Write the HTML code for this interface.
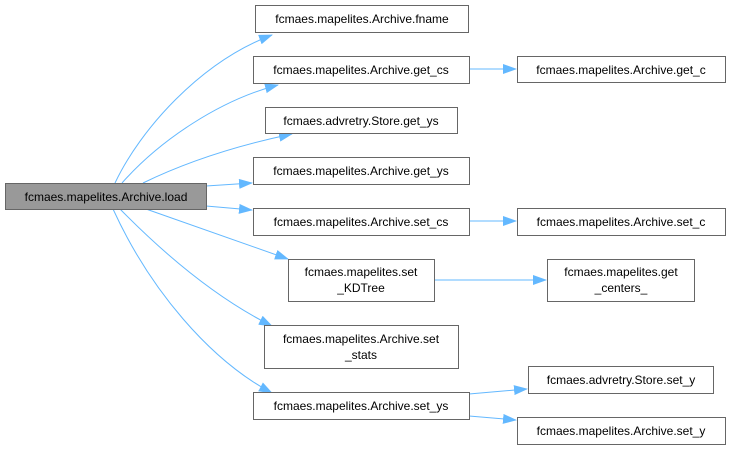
<!DOCTYPE html>
<html><head><style>
html,body{margin:0;padding:0;background:#fff;width:731px;height:449px;overflow:hidden}
text{font-family:"Liberation Sans",Arial,sans-serif;font-size:12px;fill:#000}
</style></head><body>
<svg width="731" height="449" viewBox="0 0 731 449" xmlns="http://www.w3.org/2000/svg">
<defs>
<marker id="a" markerWidth="14" markerHeight="10" refX="13" refY="5" orient="auto" markerUnits="userSpaceOnUse">
<polygon points="0,0 14,5 0,10" fill="#63b8ff"/>
</marker>
</defs>
<g fill="none" stroke="#63b8ff" stroke-width="1" marker-end="url(#a)">
<path d="M115,183 C140,130 200,62 272,35"/>
<path d="M122,183 C160,140 220,100 278,85"/>
<path d="M143,183 C180,165 230,147 292,134"/>
<path d="M206,186 L252,183"/>
<path d="M206,206 L252,210"/>
<path d="M146,209 L288,259"/>
<path d="M120,209 C170,260 220,300 272,326"/>
<path d="M113,209 C150,290 210,360 272,393"/>
<path d="M469,69 L516,69"/>
<path d="M469,221 L516,221"/>
<path d="M434,280 L546,280"/>
<path d="M469,394 L527,389"/>
<path d="M469,416 L516,420"/>
</g>
<g stroke="#666" stroke-width="1" fill="#fff">
<rect x="5.5" y="183.5" width="201" height="26" fill="#999"/>
<rect x="255.5" y="5.5" width="213" height="27"/>
<rect x="253.5" y="56.5" width="216" height="27"/>
<rect x="265.5" y="107.5" width="192" height="26"/>
<rect x="253.5" y="157.5" width="216" height="27"/>
<rect x="253.5" y="208.5" width="216" height="27"/>
<rect x="288.5" y="259.5" width="146" height="42"/>
<rect x="264.5" y="325.5" width="194" height="43"/>
<rect x="253.5" y="392.5" width="216" height="27"/>
<rect x="517.5" y="56.5" width="208" height="26"/>
<rect x="517.5" y="208.5" width="208" height="27"/>
<rect x="547.5" y="259.5" width="147" height="42"/>
<rect x="528.5" y="366.5" width="185" height="27"/>
<rect x="517.5" y="417.5" width="208" height="27"/>
</g>
<g text-anchor="middle">
<text x="106" y="201">fcmaes.mapelites.Archive.load</text>
<text x="362" y="23">fcmaes.mapelites.Archive.fname</text>
<text x="361" y="74">fcmaes.mapelites.Archive.get_cs</text>
<text x="361" y="125">fcmaes.advretry.Store.get_ys</text>
<text x="361" y="175">fcmaes.mapelites.Archive.get_ys</text>
<text x="361" y="226">fcmaes.mapelites.Archive.set_cs</text>
<text x="361" y="276">fcmaes.mapelites.set</text>
<text x="361" y="292">_KDTree</text>
<text x="361" y="343">fcmaes.mapelites.Archive.set</text>
<text x="361" y="359">_stats</text>
<text x="361" y="410">fcmaes.mapelites.Archive.set_ys</text>
<text x="621" y="74">fcmaes.mapelites.Archive.get_c</text>
<text x="621" y="226">fcmaes.mapelites.Archive.set_c</text>
<text x="621" y="276">fcmaes.mapelites.get</text>
<text x="621" y="292">_centers_</text>
<text x="621" y="384">fcmaes.advretry.Store.set_y</text>
<text x="621" y="435">fcmaes.mapelites.Archive.set_y</text>
</g>
</svg>
</body></html>
